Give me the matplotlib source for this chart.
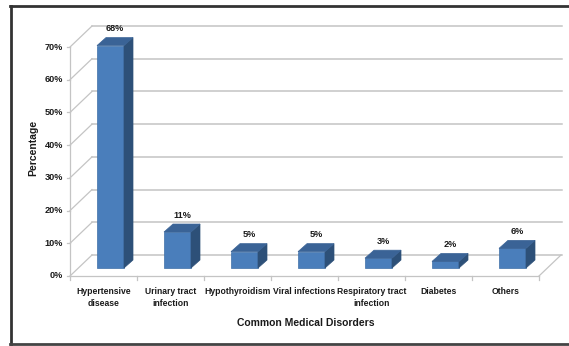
import matplotlib
matplotlib.use("Agg")
import matplotlib.pyplot as plt
from matplotlib.patches import Polygon

categories = ["Hypertensive\ndisease", "Urinary tract\ninfection", "Hypothyroidism",
              "Viral infections", "Respiratory tract\ninfection", "Diabetes", "Others"]
values = [68, 11, 5, 5, 3, 2, 6]
y_ticks = [0, 10, 20, 30, 40, 50, 60, 70]

W, H = 569, 346
plt.rcParams["font.family"] = ["Liberation Sans", "DejaVu Sans"]
fig = plt.figure(figsize=(W / 100, H / 100), dpi=100)
ax = fig.add_axes([0, 0, 1, 1])
# pixel-matched scale: x in category units, y in percent
px_x = 67.0
px_y = 3.271
x0_px, y0_px = 70, 346 - 276
ax.set_xlim(-x0_px / px_x, (W - x0_px) / px_x)
ax.set_ylim(-y0_px / px_y, (H - y0_px) / px_y)
ax.axis("off")

font = dict(fontweight="bold", fontsize=6.6, color="#1a1a1a")
cat_font = dict(fontweight="bold", fontsize=6.2, color="#1a1a1a")

n = len(categories)
dx_wall, dy_wall = 22 / px_x, 21 / px_y
grid_c = "#c4c4c4"

# back wall gridlines + left wall diagonals
for t in y_ticks:
    ax.plot([dx_wall, n + dx_wall + 0.02], [t + dy_wall, t + dy_wall], color=grid_c, lw=1.1, zorder=1)
    ax.plot([0, dx_wall], [t, t + dy_wall], color=grid_c, lw=0.9, zorder=1)
    ax.plot([-3 / px_x, 0], [t, t], color=grid_c, lw=0.9, zorder=1)
    ax.text(-7 / px_x, t, f"{t}%", ha="right", va="center", **font)

# front axis line and floor
ax.plot([0, 0], [0, y_ticks[-1]], color=grid_c, lw=0.9, zorder=1)
ax.plot([0, n], [0, 0], color=grid_c, lw=0.9, zorder=1)
ax.plot([n, n + dx_wall], [0, dy_wall], color=grid_c, lw=0.9, zorder=1)
for i in range(n + 1):
    ax.plot([i, i], [0, -4 / px_y], color=grid_c, lw=0.9, zorder=1)

# bars
bw = 27 / px_x
off_x, off_y = 7 / px_x, 8 / px_y
dep_x, dep_y = 9 / px_x, 8 / px_y
front_c, side_c, top_c = "#4a7ebb", "#2d5078", "#3a6396"
for i, (cat, v) in enumerate(zip(categories, values)):
    xl = i + 0.5 - bw / 2 + off_x
    xr = xl + bw
    yb = off_y
    yt = off_y + v
    ax.add_patch(Polygon([(xl, yb), (xr, yb), (xr, yt), (xl, yt)], closed=True,
                         fc=front_c, ec="#3f6fa8", lw=0.5, zorder=3))
    ax.add_patch(Polygon([(xr, yb), (xr + dep_x, yb + dep_y), (xr + dep_x, yt + dep_y), (xr, yt)],
                         closed=True, fc=side_c, ec=side_c, lw=0.5, zorder=3))
    ax.add_patch(Polygon([(xl, yt), (xr, yt), (xr + dep_x, yt + dep_y), (xl + dep_x, yt + dep_y)],
                         closed=True, fc=top_c, ec=top_c, lw=0.5, zorder=3))
    ax.text(i + 0.5 + off_x + dep_x / 2, yt + 17 / px_y, f"{v}%", ha="center", va="center", **font)
    ax.text(i + 0.5, -11 / px_y, cat, ha="center", va="top", linespacing=1.45, **cat_font)

ax.text(n / 2 + 0.02, -47 / px_y, "Common Medical Disorders", ha="center", va="center",
        fontweight="bold", fontsize=7.5, color="#1a1a1a")
ax.text(-37 / px_x, 39, "Percentage", ha="center", va="center", rotation=90,
        fontweight="bold", fontsize=7.5, color="#1a1a1a")

# outer frame
fig.add_artist(plt.Line2D([10.5 / W, 10.5 / W], [2 / H, 340 / H], color="#333333", lw=2.0))
fig.add_artist(plt.Line2D([10 / W, 1.0], [340 / H, 340 / H], color="#333333", lw=2.0))
fig.add_artist(plt.Line2D([10 / W, 1.0], [2 / H, 2 / H], color="#444444", lw=2.0))

fig.savefig("out.png", dpi=100)
